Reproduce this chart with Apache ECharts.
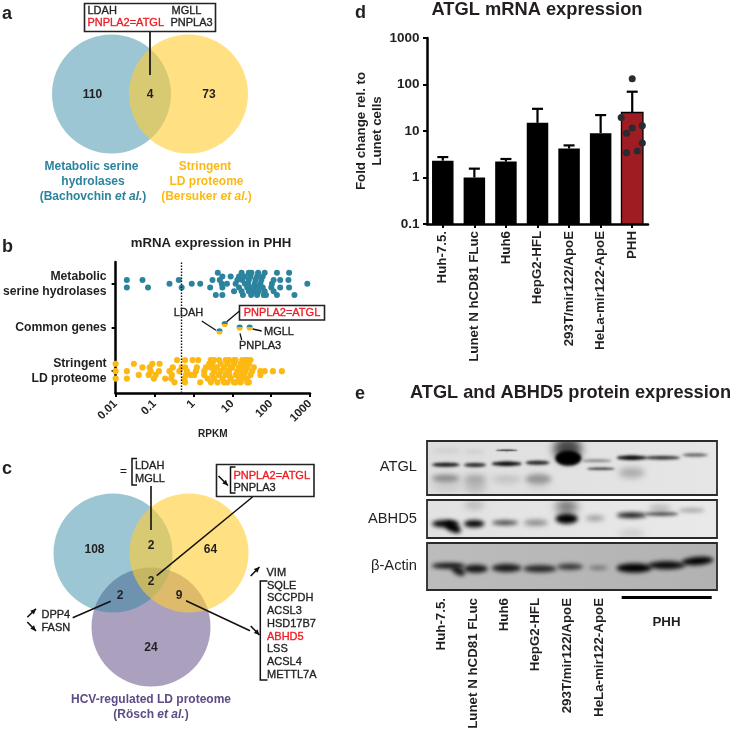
<!DOCTYPE html>
<html><head><meta charset="utf-8">
<style>html,body{margin:0;padding:0;background:#fff}#c{width:734px;height:731px}</style>
<script src="https://cdn.jsdelivr.net/npm/echarts@6/dist/echarts.min.js"></script>
</head><body><div id="c"></div>
<script>
// ---------- Panel b data: [RPKM, swarm lane] ----------
const rowLabels = ['Stringent\nLD proteome', 'Common genes', 'Metabolic\nserine hydrolases'];
const rpkmTicks = [0.01, 0.1, 1, 10, 100, 1000];
const expressionCutoff = 0.483;
const tealLane3 = [4.24, 17.4, 26.7, 31.2, 46.2, 68.2, 141, 290];
const tealLane2 = [5.57, 9.1, 14.9, 21.1, 29.5, 43.5, 60.7];
const tealLane1 = [0.0194, 0.049, 0.42, 3.1, 4.77, 13.5, 18.1, 26.7, 39.5, 56, 116, 171, 279];
const tealLane0 = [0.243, 0.906, 1.5, 5.36, 7.3, 12.2, 21.1, 25.7, 37.9, 53, 105, 853];
const tealLaneM1 = [0.0194, 0.068, 0.5, 2.7, 5.57, 14.9, 24.2, 32.4, 43.5, 60.7, 101, 171, 290];
const tealLaneM2 = [11.1, 17.4, 26.7, 35.8, 48, 68.2, 116];
const tealLaneM3 = [3.77, 5.57, 18.8, 30.6, 43.5, 64.4, 73.8, 141, 398];
const yellowLane3 = [0.38, 0.61, 0.955, 1.33, 2.81, 3.4, 4.57, 6.8, 8.25, 11.1, 12.2, 18.1, 21.9, 24.2, 29.5];
const yellowLane2 = [0.01, 0.0294, 0.088, 0.135, 2.55, 3.1, 5.05, 7.5, 11.1, 16.4, 21.9, 26.7];
const yellowLane1 = [0.049, 0.075, 0.295, 0.5, 0.61, 1.23, 2.1, 2.81, 4.0, 6.15, 9.1, 10, 14.9, 19.9, 24.2, 35.8];
const yellowLane0 = [0.01, 0.0195, 0.0796, 0.13, 0.243, 0.437, 0.685, 1.16, 1.9, 3.42, 5.05, 7.5, 8.25, 13.5, 18.1, 21.9, 32.4, 53, 68.2, 111, 189];
const yellowLaneM1 = [0.0394, 0.0708, 0.107, 0.279, 0.646, 0.867, 1.05, 1.9, 3.1, 4.57, 6.78, 8.25, 12.2, 16.4, 19.9, 29.5, 53];
const yellowLaneM2 = [0.01, 0.0195, 0.0955, 0.188, 0.268, 0.586, 2.31, 3.42, 5.57, 9.1, 14.9, 18.1, 24.2];
const yellowLaneM3 = [0.326, 0.61, 1.5, 2.81, 4.17, 6.15, 7.5, 11.1, 12.2, 16.4, 24.2, 26.7];
const commonGenes = [['LDAH', 4.7, -0.09], ['PNPLA2=ATGL', 6.4, 0.08], ['PNPLA3', 15.5, 0], ['MGLL', 28, 0]];

// ---------- Panel d data ----------
const cellLines = ['Huh-7.5.', 'Lunet N hCD81 FLuc', 'Huh6', 'HepG2-HFL', '293T/mir122/ApoE', 'HeLa-mir122-ApoE', 'PHH'];
const foldChange = [2.3, 1.0, 2.2, 15, 4.2, 9, 25];
const foldChangeUpper = [2.75, 1.55, 2.5, 30, 4.9, 22, 70];
const phhDotValues = [133, 19.5, 11.6, 13, 8.9, 5.5, 3.7, 3.4];
const phhDotJitter = [0, -0.35, 0, 0.32, -0.18, 0.32, 0.16, -0.18];

// ---------- Venn counts and gene lists ----------
const vennA = ['110', '4', '73'];
const vennC = ['108', '2', '64', '2', '2', '9', '24'];
const lipidGenes = ['SQLE', 'SCCPDH', 'ACSL3', 'HSD17B7', 'ABHD5', 'LSS', 'ACSL4', 'METTL7A'];

// ---------- Styling ----------
const FONT = '"Liberation Sans", Arial, sans-serif';
const INK = '#231f20', TEAL = '#2c839d', GOLD = '#fdb913', PURPLE = '#5d4b86', RED = '#ed1c24';
const tealFill = 'rgba(40,130,160,0.46)', goldFill = 'rgba(255,205,50,0.6)', purpleFill = 'rgb(171,161,191)';

const lanes = n => n * 0.085;
const rows = (row, sets) => sets.flatMap(([lane, arr]) => arr.map(v => [v, row + lanes(lane)]));
const tealPoints = rows(2.5, [[3, tealLane3], [2, tealLane2], [1, tealLane1], [0, tealLane0], [-1, tealLaneM1], [-2, tealLaneM2], [-3, tealLaneM3]]);
const yellowPoints = rows(0.5, [[3, yellowLane3], [2, yellowLane2], [1, yellowLane1], [0, yellowLane0], [-1, yellowLaneM1], [-2, yellowLaneM2], [-3, yellowLaneM3]]);

// ---------- graphic helpers ----------
const g = [];
function txt(x, y, text, o = {}) {
  const fill = o.fill || INK;
  g.push({ type: 'text', x, y, z: o.z || 10, rotation: o.rot || 0, silent: true, style: Object.assign({
    text, fontFamily: FONT, fontSize: o.size || 11, fontWeight: o.weight || 'bold', fill,
    align: o.align || 'left', verticalAlign: 'middle', lineHeight: o.lh
  }, o.rich ? { rich: o.rich } : {}, o.heavy ? { stroke: fill, lineWidth: o.heavy } : {}) });
}
const gene = (x, y, t, o = {}) => txt(x, y, t, Object.assign({ weight: 'normal', heavy: 0.35 }, o));
function seg(pts, w = 1.5, col = '#111', z = 9) {
  g.push({ type: 'polyline', z, silent: true, shape: { points: pts }, style: { stroke: col, lineWidth: w, fill: null } });
}
function arrow(x1, y1, x2, y2) {
  seg([[x1, y1], [x2, y2]], 1.6);
  const a = Math.atan2(y2 - y1, x2 - x1), L = 5.5, W = 2.6;
  const bx = x2 - L * Math.cos(a), by = y2 - L * Math.sin(a);
  g.push({ type: 'polygon', z: 9, silent: true, shape: { points: [[x2, y2], [bx - W * Math.sin(a), by + W * Math.cos(a)], [bx + W * Math.sin(a), by - W * Math.cos(a)]] }, style: { fill: '#111' } });
}
function box(x, y, w, h, lw = 1.6) {
  g.push({ type: 'rect', z: 8, silent: true, shape: { x, y, width: w, height: h }, style: { fill: '#fff', stroke: '#222', lineWidth: lw } });
}
function circle(cx, cy, r, fill, z) {
  g.push({ type: 'circle', z, silent: true, shape: { cx, cy, r }, style: { fill } });
}
const italRich = (fill, size) => ({
  n: { fontFamily: FONT, fontSize: size, fontWeight: 'bold', fill },
  i: { fontFamily: FONT, fontSize: size, fontWeight: 'bold', fontStyle: 'italic', fill }
});

// Panel letters
[['a', 2, 14], ['b', 2, 247], ['c', 2, 469], ['d', 355, 13], ['e', 355, 394]].forEach(([t, x, y]) => txt(x, y, t, { size: 18 }));

// ---------- Panel a ----------
circle(111.5, 94, 59.5, tealFill, 1);
circle(188.5, 94, 59.5, goldFill, 2);
box(84.5, 3.5, 131, 28);
seg([[150, 32], [150, 75]], 1.7);
gene(87.5, 10.5, 'LDAH');
gene(171.5, 10.5, 'MGLL');
gene(87.5, 22.5, 'PNPLA2=ATGL', { fill: RED });
gene(170.5, 22.5, 'PNPLA3');
txt(92.5, 95, vennA[0], { size: 12, align: 'center' });
txt(150, 95, vennA[1], { size: 12, align: 'center' });
txt(209, 95, vennA[2], { size: 12, align: 'center' });
txt(91.5, 166.5, 'Metabolic serine', { size: 12, fill: TEAL, align: 'center' });
txt(93, 181.5, 'hydrolases', { size: 12, fill: TEAL, align: 'center' });
txt(93, 196.5, '{n|(Bachovchin }{i|et al.}{n|)}', { size: 12, fill: TEAL, align: 'center', rich: italRich(TEAL, 12) });
txt(205, 166.5, 'Stringent', { size: 12, fill: GOLD, align: 'center' });
txt(206.5, 181.5, 'LD proteome', { size: 12, fill: GOLD, align: 'center' });
txt(206.5, 196.5, '{n|(Bersuker }{i|et al.}{n|)}', { size: 12, fill: GOLD, align: 'center', rich: italRich(GOLD, 12) });

// ---------- Panel b annotations ----------
txt(211, 243, 'mRNA expression in PHH', { size: 13.2, align: 'center' });
gene(188.5, 312.5, 'LDAH', { align: 'center' });
seg([[201.7, 321], [216, 330.3]], 1.3);
box(239.5, 305.5, 85, 14.5);
gene(282, 313, 'PNPLA2=ATGL', { fill: RED, align: 'center' });
seg([[226.7, 321.7], [239.5, 311]], 1.3);
seg([[252.7, 329], [261.7, 331]], 1.3);
gene(264, 331.5, 'MGLL');
seg([[240, 333.3], [241.7, 340]], 1.3);
gene(239, 346, 'PNPLA3');

// ---------- Panel c ----------
circle(151, 627, 59.5, purpleFill, 1);
circle(113, 553, 59.5, tealFill, 2);
circle(189, 553, 59.5, goldFill, 3);
[[94.5, 550], [151, 546], [210.5, 550], [151, 581.5], [120, 596], [179, 596], [151, 647.5]].forEach(([x, y], i) => txt(x, y, vennC[i], { size: 12, align: 'center' }));
gene(123.5, 472, '=', { align: 'center' });
seg([[137, 458.5], [132, 458.5], [132, 485], [137, 485]], 1.5);
gene(135, 465.5, 'LDAH');
gene(135, 478.5, 'MGLL');
seg([[151, 486], [151, 530]], 1.6);
box(216.5, 464.5, 97.5, 32);
arrow(218.5, 476, 228, 485.5);
seg([[235.5, 467], [230.5, 467], [230.5, 493], [235.5, 493]], 1.5);
gene(233.5, 475.5, 'PNPLA2=ATGL', { fill: RED });
gene(233.5, 488, 'PNPLA3');
seg([[252.5, 497], [156.7, 575.7]], 1.5);
arrow(250.7, 576, 259.5, 567);
gene(266.5, 573, 'VIM');
seg([[267.5, 581], [260.3, 581], [260.3, 680], [267.5, 680]], 1.5);
lipidGenes.forEach((t, i) => gene(267, 585.7 + i * 12.75, t, { fill: t === 'ABHD5' ? RED : INK }));
arrow(250.7, 626, 259.5, 635);
seg([[186, 600.7], [250, 630.7]], 1.5);
gene(41.5, 614.5, 'DPP4');
gene(41.5, 627.5, 'FASN');
arrow(27.3, 617.3, 36, 608.7);
arrow(27.3, 622, 36, 631);
seg([[72.7, 617.7], [110.7, 601.3]], 1.5);
txt(151, 699.5, 'HCV-regulated LD proteome', { size: 12, fill: PURPLE, align: 'center' });
txt(151, 714.5, '{n|(Rösch }{i|et al.}{n|)}', { size: 12, fill: PURPLE, align: 'center', rich: italRich(PURPLE, 12) });

// ---------- Panel d annotations ----------
txt(537, 10, 'ATGL mRNA expression', { size: 18.3, align: 'center' });

// ---------- Panel e: western blots ----------
txt(570.5, 393, 'ATGL and ABHD5 protein expression', { size: 18.2, align: 'center' });
function bg(x, y, w, h, c0, c1) {
  g.push({ type: 'rect', z: 1, silent: true, shape: { x, y, width: w, height: h }, style: { fill: { type: 'linear', x: 0, y: 0, x2: 1, y2: 0, colorStops: [{ offset: 0, color: c0 }, { offset: 1, color: c1 }] } } });
}
const OFF = 1500;
function band(x1, x2, y, h, gray, blur = 3, rot = 0) {
  // only the blurred shadow of an off-canvas ellipse shows, giving soft band edges
  const col = `rgb(${gray},${gray},${gray})`, cx = (x1 + x2) / 2;
  g.push({ type: 'ellipse', z: 2, silent: true, rotation: rot, x: cx - OFF, y, originX: 0, originY: 0,
    shape: { cx: 0, cy: 0, rx: (x2 - x1) * 0.56, ry: h / 2 },
    style: { fill: col, shadowBlur: blur, shadowColor: col, shadowOffsetX: OFF } });
}
const bx = v => 350 + v / 3, by = v => 380 + v / 3;
function zb(x1, x2, y, h, gray, blur, rot) { band(bx(x1), bx(x2), by(y), h, gray, blur, rot); }
bg(427, 441, 290, 54, '#dedede', '#e6e6e6');
bg(427, 500, 290, 38, '#e2e2e2', '#e9e9e9');
bg(427, 543, 290, 47, '#bcbcbc', '#b2b2b2');
// ATGL blot
[[250, 330, 318, 14, 205, 7], [345, 405, 320, 14, 190, 7], [440, 500, 305, 8, 210, 6], [530, 600, 318, 8, 212, 6],
 [250, 325, 295, 7, 135, 5], [345, 405, 298, 8, 160, 6], [430, 510, 296, 6, 195, 5], [530, 600, 297, 10, 150, 5], [810, 880, 278, 10, 170, 6],
 [250, 330, 212, 4, 205, 4], [345, 400, 215, 4, 205, 4], [440, 500, 211, 1.6, 45, 1.5],
 [250, 325, 254, 4, 15, 3], [345, 405, 255, 4, 35, 3], [430, 510, 251, 4.5, 5, 3], [530, 595, 248, 4, 25, 3],
 [615, 690, 208, 24, 70, 8], [620, 690, 235, 15, 0, 3], [700, 780, 242, 2.5, 120, 3], [715, 790, 266, 2.5, 60, 2.5],
 [805, 885, 233, 4.5, 0, 3], [890, 985, 233, 3.5, 35, 3], [1000, 1070, 225, 3, 85, 3]].forEach(b => zb(...b));
// ABHD5 blot
[[620, 680, 380, 14, 120, 8], [345, 400, 375, 10, 190, 6], [900, 960, 385, 8, 190, 5], [810, 880, 460, 8, 205, 6],
 [250, 322, 431, 7, 0, 4], [285, 332, 442, 9, 0, 4, -0.5], [345, 400, 431, 7, 0, 4], [430, 500, 428, 4.5, 60, 4], [525, 590, 428, 5.5, 130, 5],
 [620, 680, 416, 10, 0, 4], [710, 760, 415, 5, 150, 5], [805, 885, 406, 5, 5, 4], [890, 980, 402, 3.5, 60, 3.5], [990, 1060, 391, 3.5, 150, 4]].forEach(b => zb(...b));
// Actin blot
[[250, 340, 557, 5.5, 10, 4], [305, 345, 572, 8, 25, 4, -0.5], [345, 410, 566, 8, 20, 4], [430, 510, 564, 8, 25, 4], [525, 615, 566, 7, 35, 4],
 [625, 695, 560, 6, 50, 4], [720, 770, 563, 3.5, 100, 4], [805, 900, 564, 9, 0, 4], [900, 1000, 556, 8, 10, 4], [1000, 1085, 543, 8, 0, 4, 0.08]].forEach(b => zb(...b));
// trim band glow to the blot frames
[[415, 410, 315, 31], [420, 495, 305, 5], [420, 538, 305, 5], [420, 590, 305, 6], [410, 430, 17, 165], [717, 430, 17, 165]].forEach(([x, y, w, h]) =>
  g.push({ type: 'rect', z: 3, silent: true, shape: { x, y, width: w, height: h }, style: { fill: '#fff' } }));
[[427, 441, 290, 54], [427, 500, 290, 38], [427, 543, 290, 47]].forEach(([x, y, w, h]) =>
  g.push({ type: 'rect', z: 4, silent: true, shape: { x, y, width: w, height: h }, style: { fill: null, stroke: '#2a2a2a', lineWidth: 1.8 } }));
[['ATGL', 467], ['ABHD5', 519], ['β-Actin', 566]].forEach(([t, y]) => txt(417, y, t, { size: 14.7, weight: 'normal', align: 'right' }));
const blotX = [441.5, 473, 504, 535.5, 567, 599];
cellLines.slice(0, 6).forEach((t, i) => txt(blotX[i], 598, t, { size: 13.3, align: 'right', rot: Math.PI / 2 }));
g.push({ type: 'rect', z: 5, silent: true, shape: { x: 621.7, y: 596, width: 90, height: 3 }, style: { fill: '#000' } });
txt(666.5, 622, 'PHH', { size: 13.3, align: 'center' });

// ---------- ECharts option ----------
const axisLine = { show: true, lineStyle: { color: '#000', width: 2.5 } };
const axisTick = { show: true, length: 4, lineStyle: { color: '#000', width: 2 } };
const labelStyle = { fontFamily: FONT, fontWeight: 'bold', color: INK };
const plainNumber = v => String(rpkmTicks.concat([0.1]).find(t => Math.abs(t - v) < t * 0.01) ?? v);
const halfDot = (params, api) => {
  const p = api.coord([api.value(0), api.value(1)]), r = 3.1;
  return { type: 'group', children: [
    { type: 'sector', shape: { cx: p[0], cy: p[1], r, r0: 0, startAngle: Math.PI, endAngle: 2 * Math.PI }, style: { fill: TEAL } },
    { type: 'sector', shape: { cx: p[0], cy: p[1], r, r0: 0, startAngle: 0, endAngle: Math.PI }, style: { fill: GOLD } }
  ] };
};
const errorBar = (params, api) => {
  const x = api.value(0);
  const a = api.coord([x, api.value(1)]), b = api.coord([x, api.value(2)]);
  const s = { stroke: '#000', lineWidth: 2.2 };
  return { type: 'group', children: [
    { type: 'line', shape: { x1: a[0], y1: a[1], x2: b[0], y2: b[1] }, style: s },
    { type: 'line', shape: { x1: a[0] - 5.5, y1: b[1], x2: a[0] + 5.5, y2: b[1] }, style: s }
  ] };
};
// bars on a log axis must grow from the axis minimum, not from 1
const logBar = (params, api) => {
  const top = api.coord([api.value(0), api.value(1)]), base = api.coord([api.value(0), 0.1]), w = 21.5;
  const phh = params.dataIndex === cellLines.length - 1;
  return { type: 'rect', shape: { x: top[0] - w / 2, y: top[1], width: w, height: base[1] - top[1] },
    style: { fill: phh ? '#9e1c22' : '#000', stroke: '#000', lineWidth: phh ? 1.3 : 0 } };
};

const option = {
  animation: false,
  backgroundColor: '#fff',
  textStyle: { fontFamily: FONT },
  graphic: { elements: g },
  grid: [
    { left: 114, top: 262, width: 196, height: 131 },
    { left: 427, top: 38, width: 221, height: 186 }
  ],
  xAxis: [
    { type: 'log', gridIndex: 0, logBase: 10, min: 0.01, max: 1000, splitLine: { show: false }, axisLine, axisTick, minorTick: { show: false },
      name: 'RPKM', nameLocation: 'middle', nameGap: 36, nameTextStyle: { fontFamily: FONT, fontWeight: 'bold', fontSize: 10, color: INK },
      axisLabel: Object.assign({}, labelStyle, { fontSize: 11.5, rotate: 45, margin: 9, formatter: plainNumber, showMinLabel: true, showMaxLabel: true }) },
    { type: 'category', gridIndex: 1, data: cellLines, axisLine, axisTick: { show: true, alignWithLabel: true, length: 4, lineStyle: { color: '#000', width: 2 } },
      axisLabel: Object.assign({}, labelStyle, { fontSize: 13.3, rotate: 90, interval: 0, margin: 7 }) },
    { type: 'value', gridIndex: 1, min: 0, max: 7, show: false }
  ],
  yAxis: [
    { type: 'category', gridIndex: 0, data: rowLabels, axisLine, axisTick: { show: true, alignWithLabel: true, length: 4, lineStyle: { color: '#000', width: 2 } },
      axisLabel: Object.assign({}, labelStyle, { fontSize: 12.2, margin: 9, lineHeight: 15, align: 'right' }) },
    { type: 'value', gridIndex: 0, min: 0, max: 3, show: false },
    { type: 'log', gridIndex: 1, logBase: 10, min: 0.1, max: 1000, offset: 1.5, splitLine: { show: false }, axisLine, axisTick, minorTick: { show: false },
      name: 'Fold change rel. to\nLunet cells', nameLocation: 'middle', nameGap: 39, nameRotate: 90,
      nameTextStyle: { fontFamily: FONT, fontWeight: 'bold', fontSize: 13.3, color: INK, lineHeight: 16 },
      axisLabel: Object.assign({}, labelStyle, { fontSize: 13.5, margin: 6, formatter: plainNumber }) }
  ],
  series: [
    { type: 'scatter', name: 'Metabolic serine hydrolases', xAxisIndex: 0, yAxisIndex: 1, data: tealPoints, symbolSize: 6, clip: false, itemStyle: { color: TEAL, opacity: 1 }, silent: true,
      markLine: { silent: true, symbol: 'none', label: { show: false }, lineStyle: { color: '#111', type: [1.5, 1.5], width: 1.4 }, data: [{ xAxis: expressionCutoff }] } },
    { type: 'custom', name: 'Common genes', xAxisIndex: 0, yAxisIndex: 1, data: commonGenes.map(d => [d[1], 1.5 + d[2]]), renderItem: halfDot, clip: false, silent: true, z: 5 },
    { type: 'scatter', name: 'Stringent LD proteome', xAxisIndex: 0, yAxisIndex: 1, data: yellowPoints, symbolSize: 6.2, clip: false, itemStyle: { color: GOLD, opacity: 1 }, silent: true },
    { type: 'custom', name: 'ATGL error', xAxisIndex: 1, yAxisIndex: 2, data: foldChange.map((v, i) => [i, v, foldChangeUpper[i]]), renderItem: errorBar, encode: { x: 0, y: [1, 2] }, silent: true, z: 2 },
    { type: 'custom', name: 'ATGL mRNA', xAxisIndex: 1, yAxisIndex: 2, data: foldChange.map((v, i) => [i, v]), renderItem: logBar, encode: { x: 0, y: 1 }, silent: true, z: 3 },
    { type: 'scatter', name: 'PHH donors', xAxisIndex: 2, yAxisIndex: 2, data: phhDotValues.map((v, i) => [6.5 + phhDotJitter[i], v]), symbolSize: 7, clip: false, itemStyle: { color: '#2a2a30', opacity: 1 }, silent: true, z: 4 }
  ]
};
const chart = echarts.init(document.getElementById('c'), null, { renderer: 'canvas', width: 734, height: 731 });
chart.setOption(option);
</script></body></html>
